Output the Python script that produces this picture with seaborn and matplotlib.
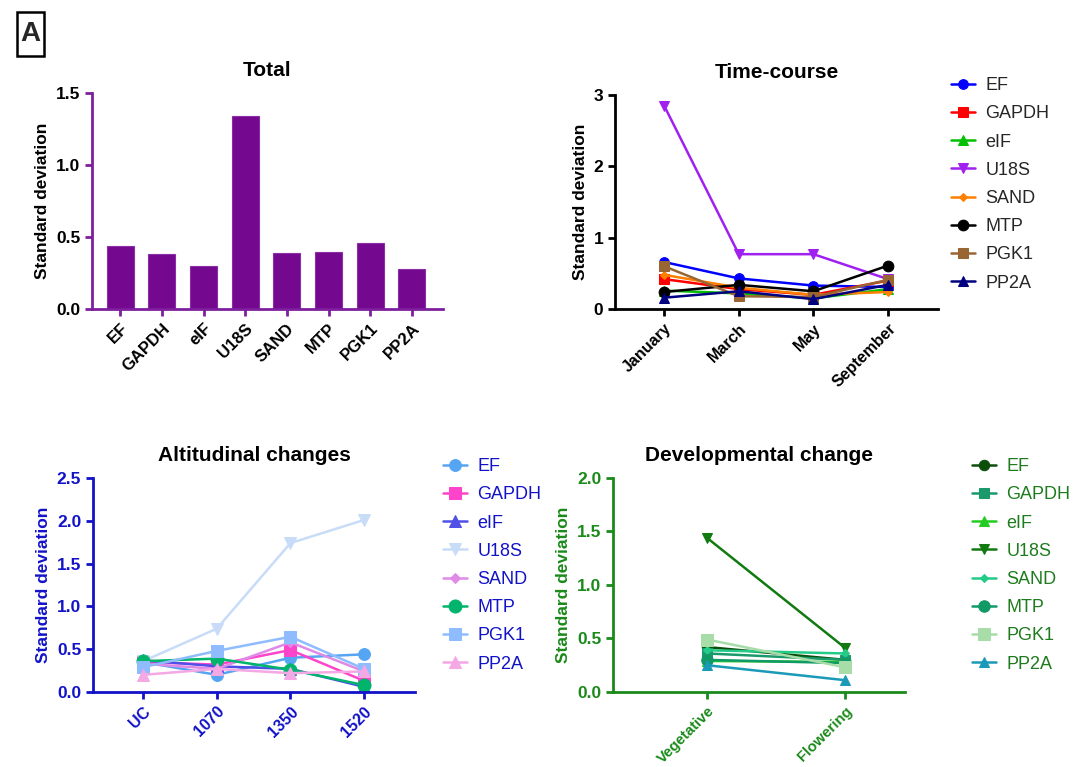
import numpy as np
import pandas as pd
import seaborn as sns
import matplotlib.pyplot as plt
from matplotlib.patches import Rectangle

# === Data ===
genes = ["EF", "GAPDH", "eIF", "U18S", "SAND", "MTP", "PGK1", "PP2A"]
total_sd = [0.44, 0.38, 0.30, 1.34, 0.39, 0.40, 0.46, 0.28]

months = ["January", "March", "May", "September"]
time_ef = [0.66, 0.43, 0.33, 0.31]
time_gapdh = [0.42, 0.28, 0.20, 0.40]
time_eif = [0.26, 0.22, 0.15, 0.28]
time_u18s = [2.85, 0.77, 0.77, 0.42]
time_sand = [0.48, 0.30, 0.20, 0.24]
time_mtp = [0.24, 0.34, 0.25, 0.61]
time_pgk1 = [0.60, 0.18, 0.17, 0.41]
time_pp2a = [0.16, 0.25, 0.14, 0.34]

altitudes = ["UC", "1070", "1350", "1520"]
alt_ef = [0.35, 0.20, 0.40, 0.44]
alt_gapdh = [0.35, 0.32, 0.49, 0.13]
alt_eif = [0.37, 0.30, 0.27, 0.06]
alt_u18s = [0.36, 0.74, 1.74, 2.01]
alt_sand = [0.33, 0.27, 0.58, 0.24]
alt_mtp = [0.36, 0.39, 0.26, 0.08]
alt_pgk1 = [0.29, 0.48, 0.645, 0.27]
alt_pp2a = [0.20, 0.27, 0.22, 0.24]

stages = ["Vegetative", "Flowering"]
dev_ef = [0.42, 0.30]
dev_gapdh = [0.36, 0.30]
dev_eif = [0.29, 0.28]
dev_u18s = [1.44, 0.41]
dev_sand = [0.39, 0.36]
dev_mtp = [0.30, 0.27]
dev_pgk1 = [0.49, 0.23]
dev_pp2a = [0.25, 0.11]

# === Styles ===
markers = ["o", "s", "^", "v", "D", "o", "s", "^"]
msizes = [1.0, 1.0, 1.0, 1.0, 0.6, 1.1, 1.1, 1.0]
time_colors = ["#0000ff", "#ff0000", "#00c000", "#a020f0", "#ff8000", "#000000", "#996633", "#000080"]
alt_colors = ["#55a5f2", "#ff44cc", "#5050e8", "#c8dcf8", "#e08ae8", "#00b46c", "#8fbcff", "#f4a8e4"]
dev_colors = ["#0b4f0b", "#1a9a6a", "#22cc22", "#117a11", "#22cc88", "#119966", "#a8dca8", "#1a9ab8"]

sns.set_theme(style="ticks")
plt.rcParams["font.family"] = ["Liberation Sans", "DejaVu Sans"]

fig = plt.figure(figsize=(10.85, 7.67), dpi=100)
ax_tot = fig.add_axes([0.0848, 0.597, 0.3235, 0.2816])
ax_time = fig.add_axes([0.5668, 0.597, 0.2977, 0.279])
ax_alt = fig.add_axes([0.0857, 0.0978, 0.2968, 0.279])
ax_dev = fig.add_axes([0.565, 0.0978, 0.269, 0.279])


def style_axes(ax, color, labelcolor, title, ylim, yticks, fmt, xfont):
    for s in ["top", "right"]:
        ax.spines[s].set_visible(False)
    for s in ["left", "bottom"]:
        ax.spines[s].set_color(color)
        ax.spines[s].set_linewidth(2)
    ax.tick_params(axis="both", direction="out", length=5, width=2, color=color,
                   labelcolor=labelcolor)
    ax.set_ylim(*ylim)
    ax.set_yticks(yticks)
    ax.set_yticklabels([fmt.format(t) for t in yticks], fontsize=12.5, fontweight="bold")
    for lab in ax.get_xticklabels():
        lab.set_rotation(45)
        lab.set_ha("right")
        lab.set_rotation_mode("anchor")
        lab.set_fontsize(xfont)
        lab.set_fontweight("bold")
    ax.set_xlabel("")
    ax.set_ylabel("Standard deviation", fontsize=12.5, fontweight="bold", color=labelcolor)
    ax.set_title(title, fontsize=15, fontweight="bold", color="black", pad=12)
    ax.set_facecolor("none")


# === Total ===
df_tot = pd.DataFrame({"gene": genes, "sd": total_sd})
sns.barplot(data=df_tot, x="gene", y="sd", color="#74088f", saturation=1,
            width=0.65, edgecolor="#8a2ea6", linewidth=0.8, ax=ax_tot)
ax_tot.set_xlim(-0.68, 7.75)
style_axes(ax_tot, "#7d1f9e", "black", "Total", (0, 1.5), [0, 0.5, 1.0, 1.5], "{:.1f}", 12)


def draw_lines(ax, cats, series, colors, ms):
    for g, vals, c, m, k in zip(genes, series, colors, markers, msizes):
        sns.lineplot(x=cats, y=vals, color=c, marker=m, markersize=ms * k,
                     markeredgecolor=c, linewidth=1.8, sort=False, label=g, ax=ax)


draw_lines(ax_time, months,
           [time_ef, time_gapdh, time_eif, time_u18s, time_sand, time_mtp, time_pgk1, time_pp2a],
           time_colors, 7)
ax_time.set_xlim(-0.66, 3.67)
style_axes(ax_time, "black", "black", "Time-course", (0, 3), [0, 1, 2, 3], "{:d}", 11.5)

draw_lines(ax_alt, altitudes,
           [alt_ef, alt_gapdh, alt_eif, alt_u18s, alt_sand, alt_mtp, alt_pgk1, alt_pp2a],
           alt_colors, 8.5)
ax_alt.set_xlim(-0.68, 3.69)
style_axes(ax_alt, "#1212c8", "#1212c8", "Altitudinal changes", (0, 2.5),
           [0, 0.5, 1.0, 1.5, 2.0, 2.5], "{:.1f}", 11.5)

draw_lines(ax_dev, stages,
           [dev_ef, dev_gapdh, dev_eif, dev_u18s, dev_sand, dev_mtp, dev_pgk1, dev_pp2a],
           dev_colors, 7.5)
ax_dev.set_xlim(-0.68, 1.43)
style_axes(ax_dev, "#1a8a1a", "#1a8a1a", "Developmental change", (0, 2.0),
           [0, 0.5, 1.0, 1.5, 2.0], "{:.1f}", 10.8)

# === Legends ===
legend_kw = dict(loc="upper left", frameon=False, fontsize=13, handlelength=1.3,
                 handletextpad=0.6, labelspacing=0.62, borderaxespad=0)
ax_time.legend(bbox_to_anchor=(944 / 1085, 1 - 70 / 767), bbox_transform=fig.transFigure, **legend_kw)
leg = ax_alt.legend(bbox_to_anchor=(436 / 1085, 1 - 451 / 767), bbox_transform=fig.transFigure, **legend_kw)
for t in leg.get_texts():
    t.set_color("#1212c8")
leg = ax_dev.legend(bbox_to_anchor=(965 / 1085, 1 - 451 / 767), bbox_transform=fig.transFigure, **legend_kw)
for t in leg.get_texts():
    t.set_color("#1e7b1e")

# Panel label
fig.patches.append(Rectangle((17 / 1085, 1 - 56 / 767), 27 / 1085, 44 / 767, transform=fig.transFigure,
                             facecolor="white", edgecolor="black", linewidth=1.8, zorder=5))
fig.text(30.5 / 1085, 1 - 34 / 767, "A", fontsize=20, fontweight="bold", ha="center", va="center", zorder=6)

plt.savefig("out.png", dpi=100)
